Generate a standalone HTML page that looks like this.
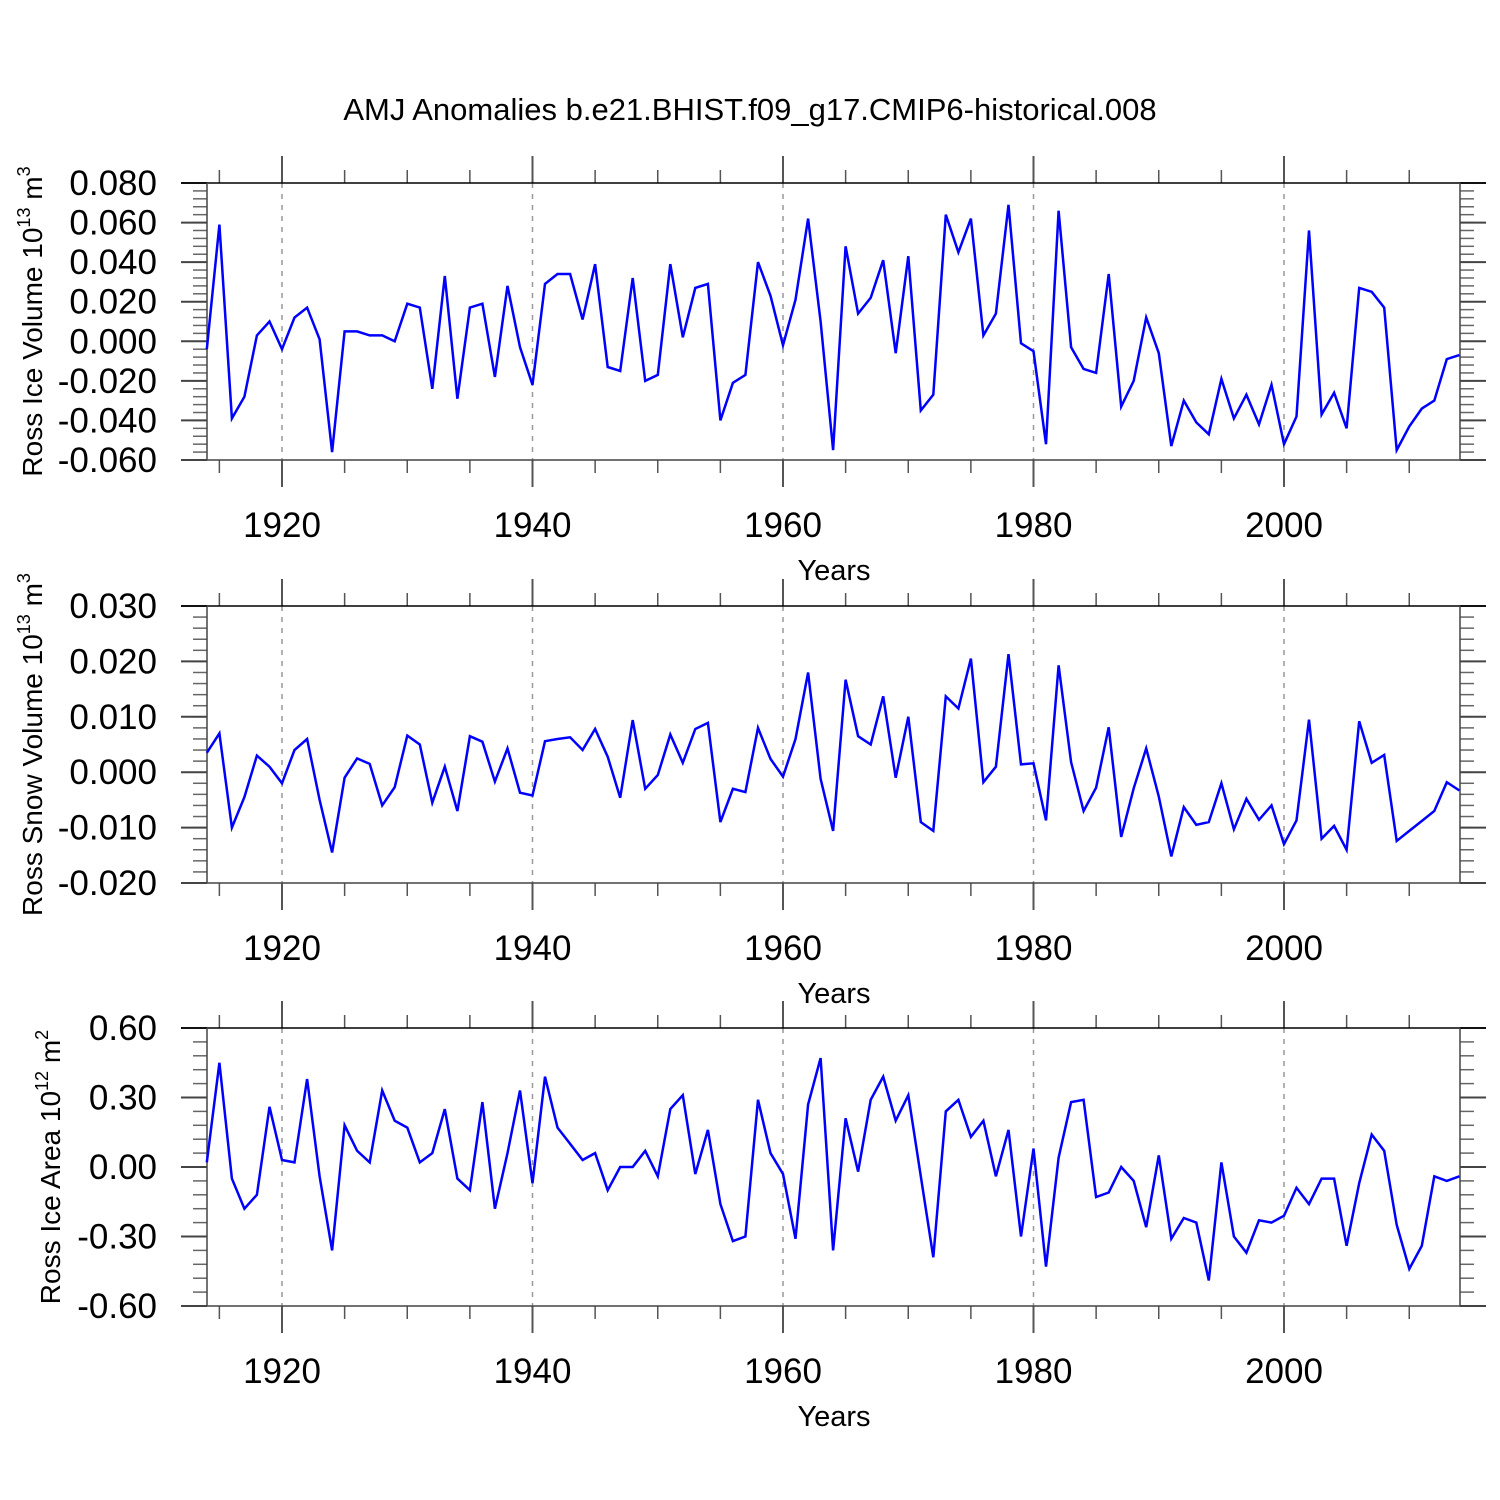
<!DOCTYPE html>
<html><head><meta charset="utf-8">
<style>
html,body{margin:0;padding:0;background:#fff;}
svg{display:block;font-family:"Liberation Sans",sans-serif;}
</style></head>
<body>
<svg id="chart" width="1500" height="1500" viewBox="0 0 1500 1500" xmlns="http://www.w3.org/2000/svg">
<rect width="1500" height="1500" fill="#fff"/>
<text x="750" y="120" font-size="31" text-anchor="middle">AMJ Anomalies b.e21.BHIST.f09_g17.CMIP6-historical.008</text>
</svg>
<script>
const startYear = 1914;
const xTickYears = [1920, 1940, 1960, 1980, 2000];
const iceVolume = [-0.004,0.059,-0.039,-0.028,0.003,0.010,-0.004,0.012,0.017,0.001,-0.056,0.005,0.005,0.003,0.003,0.000,0.019,0.017,-0.024,0.033,-0.029,0.017,0.019,-0.018,0.028,-0.003,-0.022,0.029,0.034,0.034,0.011,0.039,-0.013,-0.015,0.032,-0.020,-0.017,0.039,0.002,0.027,0.029,-0.040,-0.021,-0.017,0.040,0.023,-0.002,0.021,0.062,0.010,-0.055,0.048,0.014,0.022,0.041,-0.006,0.043,-0.035,-0.027,0.064,0.045,0.062,0.003,0.014,0.069,-0.001,-0.005,-0.052,0.066,-0.003,-0.014,-0.016,0.034,-0.033,-0.020,0.012,-0.006,-0.053,-0.030,-0.041,-0.047,-0.019,-0.039,-0.027,-0.042,-0.022,-0.052,-0.038,0.056,-0.037,-0.026,-0.044,0.027,0.025,0.017,-0.055,-0.043,-0.034,-0.030,-0.009,-0.007];
const snowVolume = [0.0035,0.007,-0.010,-0.0045,0.003,0.001,-0.002,0.004,0.006,-0.005,-0.0145,-0.001,0.0025,0.0015,-0.006,-0.0027,0.0066,0.005,-0.0055,0.001,-0.007,0.0065,0.0055,-0.0017,0.0043,-0.0037,-0.0042,0.0056,0.006,0.0063,0.004,0.0078,0.0028,-0.0046,0.0094,-0.003,-0.0005,0.0068,0.0017,0.0078,0.0089,-0.009,-0.003,-0.0036,0.008,0.0024,-0.0008,0.006,0.018,-0.0012,-0.0106,0.0167,0.0065,0.005,0.0137,-0.001,0.010,-0.009,-0.0106,0.0137,0.0115,0.0205,-0.0018,0.001,0.0213,0.0014,0.0016,-0.0087,0.0193,0.0018,-0.007,-0.0028,0.0081,-0.0117,-0.0029,0.0043,-0.0044,-0.0152,-0.0063,-0.0095,-0.009,-0.002,-0.0103,-0.0048,-0.0086,-0.006,-0.013,-0.0087,0.0095,-0.012,-0.0097,-0.014,0.0092,0.0017,0.0031,-0.0124,-0.0106,-0.0088,-0.007,-0.0018,-0.0033];
const iceArea = [0.02,0.45,-0.05,-0.18,-0.12,0.26,0.03,0.02,0.38,-0.04,-0.36,0.18,0.07,0.02,0.33,0.20,0.17,0.02,0.06,0.25,-0.05,-0.10,0.28,-0.18,0.06,0.33,-0.07,0.39,0.17,0.10,0.03,0.06,-0.10,0.00,0.00,0.07,-0.04,0.25,0.31,-0.03,0.16,-0.16,-0.32,-0.30,0.29,0.06,-0.03,-0.31,0.27,0.47,-0.36,0.21,-0.02,0.29,0.39,0.20,0.31,-0.04,-0.39,0.24,0.29,0.13,0.20,-0.04,0.16,-0.30,0.08,-0.43,0.04,0.28,0.29,-0.13,-0.11,0.00,-0.06,-0.26,0.05,-0.31,-0.22,-0.24,-0.49,0.02,-0.30,-0.37,-0.23,-0.24,-0.21,-0.09,-0.16,-0.05,-0.05,-0.34,-0.07,0.14,0.07,-0.25,-0.44,-0.34,-0.04,-0.06,-0.04];
const iceVolumeTicks = ["0.080","0.060","0.040","0.020","0.000","-0.020","-0.040","-0.060"];
const snowVolumeTicks = ["0.030","0.020","0.010","0.000","-0.010","-0.020"];
const iceAreaTicks = ["0.60","0.30","0.00","-0.30","-0.60"];

const NS = "http://www.w3.org/2000/svg";
const svg = document.getElementById("chart");
function mk(tag, attrs, parent){
  const e = document.createElementNS(NS, tag);
  for (const k in attrs) e.setAttribute(k, attrs[k]);
  (parent||svg).appendChild(e);
  return e;
}
const X0 = 207, X1 = 1460, PX_PER_YEAR = (1284-282)/80;
function xScale(yr){ return 282 + (yr-1920)*PX_PER_YEAR; }

function panel(key, top, bottom, ymin, ymax, ticks, minorStep, values, titleParts, titleX){
  const g = mk("g", {});
  
  
  const yScale = v => bottom - (v - ymin) * (bottom - top) / (ymax - ymin);
  xTickYears.forEach(yr => {
    const l = mk("line", {x1:xScale(yr), x2:xScale(yr), y1:top, y2:bottom, stroke:"#999", "stroke-width":1.5, "stroke-dasharray":"5,6"}, g);
    
    
  });
  const nMinor = Math.round((ymax-ymin)/minorStep);
  for (let i=0;i<=nMinor;i++){
    const v = ymin + i*minorStep;
    const y = yScale(v);
    mk("line",{x1:193,x2:X0,y1:y,y2:y,stroke:"#666","stroke-width":1.5},g);
    mk("line",{x1:X1,x2:1474,y1:y,y2:y,stroke:"#666","stroke-width":1.5},g);
  }
  ticks.forEach((t,i) => {
    const v = ymax - i*(ymax-ymin)/(ticks.length-1);
    const y = yScale(v);
    mk("line",{x1:181,x2:X0,y1:y,y2:y,stroke:"#444","stroke-width":2},g);
    mk("line",{x1:X1,x2:1486,y1:y,y2:y,stroke:"#444","stroke-width":2},g);
    const tx = mk("text",{x:157,y:y+12,"font-size":35,"text-anchor":"end"},g);
    tx.textContent = t;
    
    
  });
  for (let yr=1915; yr<=2010; yr+=5){
    const x = xScale(yr);
    const major = yr % 20 === 0;
    mk("line",{x1:x,x2:x,y1:top-(major?27:13),y2:top,stroke:"#555","stroke-width":major?2:1.5},g);
    mk("line",{x1:x,x2:x,y1:bottom,y2:bottom+(major?27:13),stroke:"#555","stroke-width":major?2:1.5},g);
  }
  xTickYears.forEach(yr => {
    const tx = mk("text",{x:xScale(yr),y:bottom+77,"font-size":35,"text-anchor":"middle"},g);
    tx.textContent = yr;
    
    
  });
  mk("line",{x1:181,x2:1486,y1:top,y2:top,stroke:"#000","stroke-width":1.5},g);
  mk("line",{x1:181,x2:1486,y1:bottom,y2:bottom,stroke:"#444","stroke-width":1.5},g);
  mk("line",{x1:X0,x2:X0,y1:top,y2:bottom,stroke:"#444","stroke-width":1.5},g);
  mk("line",{x1:X1,x2:X1,y1:top,y2:bottom,stroke:"#444","stroke-width":1.5},g);
  const pts = values.map((v,i) => xScale(startYear+i).toFixed(1)+","+yScale(v).toFixed(1)).join(" ");
  const pl = mk("polyline",{points:pts,fill:"none",stroke:"#0000ff","stroke-width":2.5,"stroke-linejoin":"miter"},g);
  
  
  const xt = mk("text",{x:834,y:bottom+120,"font-size":29,"text-anchor":"middle"},g);
  xt.textContent = "Years";
  
  
  const cy = (top+bottom)/2;
  const yt = mk("text",{x:0,y:0,"font-size":28,"text-anchor":"middle",transform:"translate("+titleX+","+cy+") rotate(-90)"},g);
  
  
  const t1 = mk("tspan",{},yt); t1.textContent = titleParts[0];
  const t2 = mk("tspan",{dy:-12,"font-size":18},yt); t2.textContent = titleParts[1];
  const t3 = mk("tspan",{dy:12},yt); t3.textContent = " m";
  const t4 = mk("tspan",{dy:-12,"font-size":18},yt); t4.textContent = titleParts[2];
}
panel("ross-ice-volume",183,460,-0.060,0.080,iceVolumeTicks,0.004,iceVolume,["Ross Ice Volume 10","13","3"],42);
panel("ross-snow-volume",606,883,-0.020,0.030,snowVolumeTicks,0.002,snowVolume,["Ross Snow Volume 10","13","3"],42);
panel("ross-ice-area",1028,1306,-0.60,0.60,iceAreaTicks,0.06,iceArea,["Ross Ice Area 10","12","2"],60);
</script>
</body></html>
